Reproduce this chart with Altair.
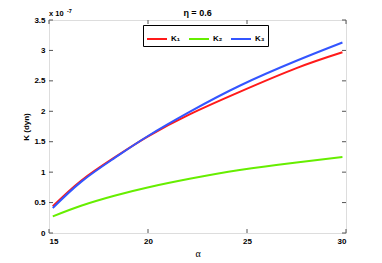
import altair as alt
import pandas as pd

# values (K in units of 1e-7 dyn)
alpha = [15.19, 16.62, 18.30, 19.98, 22.1, 24.63, 27.5, 29.82]
k1 = [0.44, 0.86, 1.24, 1.585, 1.95, 2.32, 2.71, 2.97]
k2 = [0.273, 0.448, 0.612, 0.748, 0.89, 1.035, 1.16, 1.247]
k3 = [0.41, 0.84, 1.23, 1.59, 1.99, 2.42, 2.83, 3.13]
series = ["K₁", "K₂", "K₃"]
colors = ["#ff1a1a", "#66ee00", "#3355ff"]
xticks = [15, 20, 25, 30]
yticks = [0, 0.5, 1, 1.5, 2, 2.5, 3, 3.5]

W, H = 297, 213
FONT = "Liberation Sans"
AX = "#555555"

rows = []
for name, vals in zip(series, [k1, k2, k3]):
    for a, v in zip(alpha, vals):
        rows.append({"alpha": a, "K": v, "series": name})
df = pd.DataFrame(rows)

xscale = alt.Scale(domain=[15, 30], nice=False, zero=False)
yscale = alt.Scale(domain=[0, 3.5], nice=False)

xaxis = alt.Axis(values=xticks, title="α", ticks=False, domain=False, grid=False,
                 format="~g", labelOverlap=False,
                 labelFont=FONT, labelFontSize=8, labelFontWeight="bold",
                 labelColor="black", labelPadding=4,
                 titleFont="Liberation Serif", titleFontSize=10,
                 titleFontWeight="normal", titleColor="black", titlePadding=3)
yaxis = alt.Axis(values=yticks, title="K (dyn)", ticks=False, domain=False, grid=False,
                 format="~g", labelOverlap=False,
                 labelFont=FONT, labelFontSize=8, labelFontWeight="bold",
                 labelColor="black", labelPadding=4,
                 titleFont=FONT, titleFontSize=8, titleFontWeight="bold",
                 titleColor="black", titlePadding=3)

lines = alt.Chart(df).mark_line(strokeWidth=2, interpolate="natural").encode(
    x=alt.X("alpha:Q", scale=xscale, axis=xaxis),
    y=alt.Y("K:Q", scale=yscale, axis=yaxis),
    color=alt.Color("series:N", scale=alt.Scale(domain=series, range=colors),
                    sort=series,
                    legend=alt.Legend(title=None, orient="none", legendX=94, legendY=5,
                                      direction="horizontal", strokeColor="black",
                                      fillColor="white", padding=3,
                                      symbolType="stroke", symbolSize=400,
                                      symbolStrokeWidth=2, labelFont=FONT,
                                      labelFontSize=8, labelFontWeight="bold",
                                      columnPadding=4, labelOffset=3)),
    order=alt.Order("series:N"),
)

ydf = pd.DataFrame({"v": yticks})
xdf = pd.DataFrame({"v": xticks})

lt = alt.Chart(ydf).mark_rule(color=AX, strokeWidth=1).encode(
    y=alt.Y("v:Q", scale=yscale, axis=yaxis), x=alt.value(0), x2=alt.value(4))
rt = alt.Chart(ydf).mark_rule(color=AX, strokeWidth=1).encode(
    y=alt.Y("v:Q", scale=yscale, axis=yaxis), x=alt.value(W - 4), x2=alt.value(W))
bt = alt.Chart(xdf).mark_rule(color=AX, strokeWidth=1).encode(
    x=alt.X("v:Q", scale=xscale, axis=xaxis), y=alt.value(H - 4), y2=alt.value(H))
tt = alt.Chart(xdf).mark_rule(color=AX, strokeWidth=1).encode(
    x=alt.X("v:Q", scale=xscale, axis=xaxis), y=alt.value(0), y2=alt.value(4))

exp_base = alt.Chart(pd.DataFrame({"t": ["x 10"]})).mark_text(
    font=FONT, fontSize=7.5, fontWeight="bold", align="left", baseline="alphabetic", color="black"
).encode(text="t:N", x=alt.value(0), y=alt.value(-4))
exp_sup = alt.Chart(pd.DataFrame({"t": ["-7"]})).mark_text(
    font=FONT, fontSize=5.5, fontWeight="bold", align="left", baseline="alphabetic", color="black"
).encode(text="t:N", x=alt.value(18), y=alt.value(-7.5))

chart = alt.layer(lines, lt, rt, bt, tt, exp_base, exp_sup).properties(
    width=W, height=H,
    title=alt.TitleParams("η = 0.6", font=FONT, fontSize=9, fontWeight="bold",
                          color="black", anchor="middle", offset=0, dy=9),
    autosize=alt.AutoSizeParams(type="none"),
    padding={"left": 41, "top": 12, "right": 28, "bottom": 32},
).configure_view(stroke=AX, strokeWidth=1).configure_axis(
    labelOverlap=False).configure(background="white")

chart.save("out.html", embed_options={"renderer": "svg", "actions": False})
